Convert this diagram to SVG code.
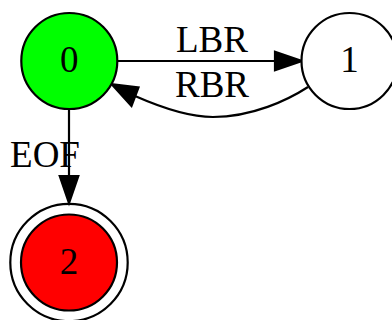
<svg xmlns="http://www.w3.org/2000/svg" width="392" height="320" viewBox="0 0 392 320">
<style>
.n{stroke:#000;stroke-width:2.2}
.t{font-family:"Liberation Serif","Times New Roman",serif;font-size:37px;fill:#000;text-anchor:middle}
.e{fill:none;stroke:#000;stroke-width:2.2}
.a{fill:#000;stroke:#000;stroke-width:2.2}
</style>
<rect width="392" height="320" fill="#fff"/>
<g id="edges">
<g id="e0_1">
<path class="e" d="M117.5,61 L275,61"/>
<polygon class="a" points="275,51.7 302,61 275,70.3"/>
<text class="t" x="212" y="51.5">LBR</text>
</g>
<g id="e1_0">
<path class="e" d="M308,87 C288,100 252,117 213,117 C187,117 160,107 135,96"/>
<polygon class="a" points="131.5,106 111.7,84.3 138.5,87.5"/>
<text class="t" x="212" y="97">RBR</text>
</g>
<g id="e0_2">
<path class="e" d="M69,109 L69,176"/>
<polygon class="a" points="59.7,176 69,203 78.3,176"/>
<text class="t" x="45" y="166.5">EOF</text>
</g>
</g>
<g id="node0">
<circle class="n" cx="69.3" cy="61" r="48" fill="#00ff00"/>
<text class="t" x="69.3" y="72">0</text>
</g>
<g id="node1">
<circle class="n" cx="349.5" cy="61" r="48" fill="#fff"/>
<text class="t" x="349.5" y="72">1</text>
</g>
<g id="node2">
<circle class="n" cx="69" cy="262.5" r="58.7" fill="none"/>
<circle class="n" cx="69" cy="262.5" r="48" fill="#ff0000"/>
<text class="t" x="69" y="273.7">2</text>
</g>
</svg>
